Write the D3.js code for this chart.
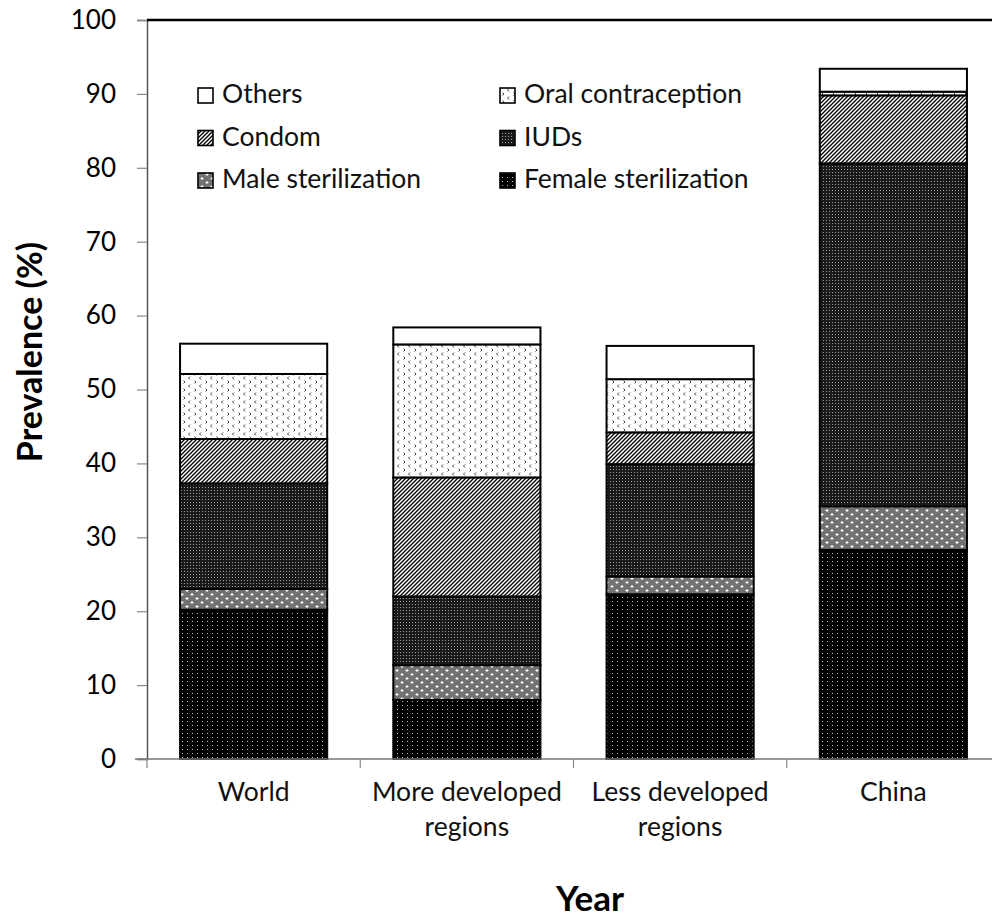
<!DOCTYPE html>
<html><head><meta charset="utf-8">
<script src="https://cdn.jsdelivr.net/npm/d3@7"></script>
<style>body{margin:0;background:#fff}svg{display:block;font-family:Lato,"Open Sans",sans-serif}</style>
</head><body><svg id="c" width="992" height="921"></svg>
<script>
const categories = [["World"],["More developed","regions"],["Less developed","regions"],["China"]];
const seriesNames = ["Female sterilization","Male sterilization","IUDs","Condom","Oral contraception","Others"];
const femaleSterilization = [20.2, 8.0, 22.3, 28.3];
const maleSterilization = [2.8, 4.7, 2.4, 5.9];
const iuds = [14.3, 9.3, 15.2, 46.4];
const condom = [6.0, 16.1, 4.3, 9.2];
const oralContraception = [8.8, 18.0, 7.2, 0.5];
const others = [4.1, 2.3, 4.5, 3.1];
const yTicks = [0,10,20,30,40,50,60,70,80,90,100];
const legendOrder = ["Others","Oral contraception","Condom","IUDs","Male sterilization","Female sterilization"];

const seriesVals = [femaleSterilization, maleSterilization, iuds, condom, oralContraception, others];
const patIds = ["pFemale","pMale","pIud","pCondom","pOral","pOthers"];
const svg = d3.select("#c");
const defs = svg.append("defs");

// patterns
let p = defs.append("pattern").attr("id","pFemale").attr("patternUnits","userSpaceOnUse").attr("width",5).attr("height",4);
p.append("rect").attr("width",5).attr("height",4).attr("fill","#000");
p.append("rect").attr("x",2).attr("y",1).attr("width",1).attr("height",1).attr("fill","#bbb");

p = defs.append("pattern").attr("id","pIud").attr("patternUnits","userSpaceOnUse").attr("width",3).attr("height",3);
p.append("rect").attr("width",3).attr("height",3).attr("fill","#1a1a1a");
p.append("rect").attr("x",1).attr("y",1).attr("width",1).attr("height",1).attr("fill","#9a9a9a");

p = defs.append("pattern").attr("id","pMale").attr("patternUnits","userSpaceOnUse").attr("width",10).attr("height",8);
p.append("rect").attr("width",10).attr("height",8).attr("fill","#727272");
p.append("path").attr("d","M2,1v3M0.5,2.5h3M7,5v3M5.5,6.5h3").attr("stroke","#fff").attr("stroke-width",1);

p = defs.append("pattern").attr("id","pCondom").attr("patternUnits","userSpaceOnUse").attr("width",4).attr("height",4);
p.append("rect").attr("width",4).attr("height",4).attr("fill","#fff");
p.append("path").attr("d","M-1,1L1,-1M0,4L4,0M3,5L5,3").attr("stroke","#000").attr("stroke-width",1.3);

p = defs.append("pattern").attr("id","pOral").attr("patternUnits","userSpaceOnUse").attr("width",11).attr("height",8);
p.append("rect").attr("width",11).attr("height",8).attr("fill","#fff");
p.append("path").attr("d","M3,0.5L1.5,2L3,3.5M7.5,4.5L9,6L7.5,7.5").attr("stroke","#444").attr("stroke-width",1).attr("fill","none");

p = defs.append("pattern").attr("id","pOthers").attr("patternUnits","userSpaceOnUse").attr("width",4).attr("height",4);
p.append("rect").attr("width",4).attr("height",4).attr("fill","#fff");

const x0 = 147, x1 = 1000;
const x = d3.scaleBand().domain(d3.range(categories.length)).range([x0,x1]).paddingInner(0).paddingOuter(0);
const y = d3.scaleLinear().domain([0,100]).range([759,20]);
const barW = x.bandwidth()*0.69;

// stack
const rows = categories.map((c,i)=>{const o={i}; seriesNames.forEach((s,k)=>o[s]=seriesVals[k][i]); return o;});
const stacked = d3.stack().keys(seriesNames)(rows);

const g = svg.append("g");
stacked.forEach((layer,k)=>{
  g.selectAll(null).data(layer).enter().append("rect")
    .attr("x",d=>x(d.data.i)+(x.bandwidth()-barW)/2)
    .attr("width",barW)
    .attr("y",d=>y(d[1]))
    .attr("height",d=>y(d[0])-y(d[1]))
    .attr("fill",`url(#${patIds[k]})`)
    .attr("stroke","#000").attr("stroke-width",2);
});

// axes
const yAxis = d3.axisLeft(y).tickValues(yTicks).tickSize(10).tickPadding(21);
const ya = svg.append("g").attr("transform",`translate(${x0},0)`).call(yAxis);
ya.select(".domain").attr("stroke","#555").attr("stroke-width",1.5);
ya.selectAll(".tick line").attr("stroke","#888").attr("stroke-width",1.2);
ya.selectAll(".tick text").attr("font-size",26).attr("fill","#000").attr("font-family","Lato, sans-serif");

// top border line
svg.append("line").attr("x1",x0).attr("x2",992).attr("y1",y(100)).attr("y2",y(100)).attr("stroke","#000").attr("stroke-width",2.5);

// x axis
const xb = svg.append("g");
xb.append("line").attr("x1",x0-12).attr("x2",992).attr("y1",y(0)).attr("y2",y(0)).attr("stroke","#777").attr("stroke-width",1.5);
const bounds = d3.range(categories.length).map(i=>x(i));
xb.selectAll(null).data(bounds).enter().append("line")
  .attr("x1",d=>d).attr("x2",d=>d).attr("y1",y(0)).attr("y2",y(0)+9).attr("stroke","#888").attr("stroke-width",1.2);

const lbl = svg.append("g").selectAll(null).data(categories).enter().append("text")
  .attr("text-anchor","middle").attr("font-size",26.5).attr("fill","#111");
lbl.each(function(c,i){
  const t = d3.select(this);
  c.forEach((line,j)=>t.append("tspan").attr("x",x(i)+x.bandwidth()/2).attr("y",801+j*35).text(line));
});

// legend
const leg = svg.append("g");
legendOrder.forEach((name,idx)=>{
  const col = idx%2, row = Math.floor(idx/2);
  const lx = col===0 ? 198 : 500, ly = 103 + row*42.5;
  const k = seriesNames.indexOf(name);
  leg.append("rect").attr("x",lx).attr("y",ly-15).attr("width",15).attr("height",15)
    .attr("fill",`url(#${patIds[k]})`).attr("stroke","#000").attr("stroke-width",1.6);
  leg.append("text").attr("x",lx+24).attr("y",ly).attr("font-size",26.5).attr("fill","#111").text(name);
});

// titles
svg.append("text").attr("transform","translate(42,352) rotate(-90)").attr("text-anchor","middle")
  .attr("font-size",34).attr("font-weight","bold").attr("fill","#000").text("Prevalence (%)");
svg.append("text").attr("x",590).attr("y",911).attr("text-anchor","middle")
  .attr("font-size",35).attr("font-weight","bold").attr("fill","#000").text("Year");
</script></body></html>
